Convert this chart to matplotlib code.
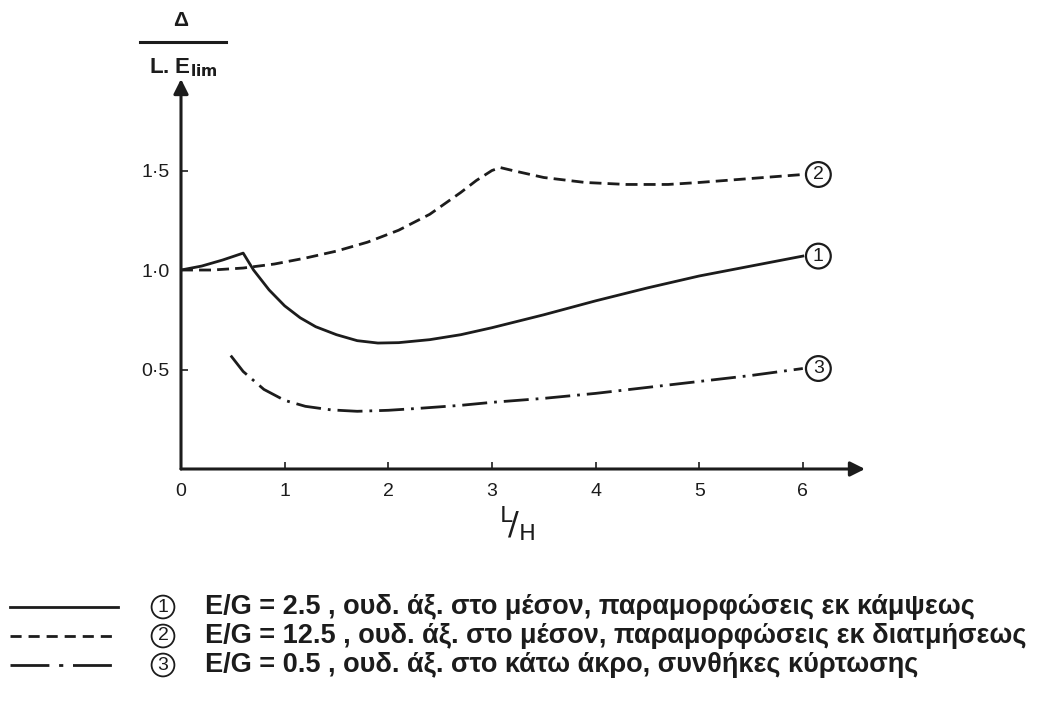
import matplotlib.pyplot as plt
from matplotlib.lines import Line2D

# curve 1: E/G = 2.5 (solid)
c1_x = [0.0, 0.2, 0.4, 0.6, 0.7, 0.85, 1.0, 1.15, 1.3, 1.5, 1.7, 1.9, 2.1, 2.4, 2.7, 3.0, 3.5, 4.0, 4.5, 5.0, 5.5, 6.0]
c1_y = [1.00, 1.02, 1.05, 1.085, 1.00, 0.90, 0.82, 0.76, 0.715, 0.675, 0.645, 0.633, 0.635, 0.65, 0.675, 0.71, 0.775, 0.845, 0.91, 0.97, 1.02, 1.07]

# curve 2: E/G = 12.5 (dashed)
c2_x = [0.0, 0.3, 0.6, 0.9, 1.2, 1.5, 1.8, 2.1, 2.4, 2.7, 2.85, 3.0, 3.08, 3.2, 3.5, 3.9, 4.3, 4.7, 5.0, 5.5, 6.0]
c2_y = [1.00, 1.00, 1.01, 1.03, 1.06, 1.095, 1.14, 1.20, 1.28, 1.39, 1.45, 1.50, 1.515, 1.50, 1.465, 1.44, 1.43, 1.43, 1.44, 1.46, 1.48]

# curve 3: E/G = 0.5 (dash-dot)
c3_x = [0.48, 0.6, 0.8, 1.0, 1.2, 1.45, 1.7, 2.0, 2.3, 2.7, 3.0, 3.5, 4.0, 4.5, 5.0, 5.5, 6.0]
c3_y = [0.57, 0.49, 0.40, 0.345, 0.315, 0.297, 0.29, 0.295, 0.305, 0.32, 0.335, 0.355, 0.38, 0.41, 0.44, 0.47, 0.505]

x_ticks = [0, 1, 2, 3, 4, 5, 6]
y_ticks = [0.5, 1.0, 1.5]
y_tick_labels = ['0·5', '1·0', '1·5']

curve_ids = ['1', '2', '3']
legend_texts = [
    'E/G = 2.5 , ουδ. άξ. στο μέσον, παραμορφώσεις εκ κάμψεως',
    'E/G = 12.5 , ουδ. άξ. στο μέσον, παραμορφώσεις εκ διατμήσεως',
    'E/G = 0.5 , ουδ. άξ. στο κάτω άκρο, συνθήκες κύρτωσης',
]

ink = '#1c1c1c'
plt.rcParams['font.family'] = ['Liberation Sans', 'DejaVu Sans']

fig = plt.figure(figsize=(10.57, 7.1), dpi=100)
fig.patch.set_facecolor('white')

ax = fig.add_axes([181 / 1057, 1 - 469 / 710, 684 / 1057, 390 / 710])
ax.set_xlim(0, 6.6)
ax.set_ylim(0, 1.96)
for s in ax.spines.values():
    s.set_visible(False)

# axes drawn as arrows
arrow = dict(arrowstyle='-|>', lw=2.2, color=ink, mutation_scale=22, shrinkA=0, shrinkB=0)
ax.annotate('', xy=(6.6, 0), xytext=(0, 0), arrowprops=arrow, annotation_clip=False)
ax.annotate('', xy=(0, 1.96), xytext=(0, 0), arrowprops=arrow, annotation_clip=False)

ax.set_xticks(x_ticks)
ax.set_yticks(y_ticks)
ax.set_yticklabels(y_tick_labels)
ax.tick_params(direction='in', length=5, width=1.2, color=ink, labelsize=14,
               labelcolor=ink)
ax.tick_params(axis='x', pad=10)
ax.tick_params(axis='y', pad=8)

styles = [
    dict(linestyle='-'),
    dict(linestyle=(0, (4.3, 2.2))),
    dict(linestyle=(0, (9, 2.5, 1, 2.5))),
]
series = [(c1_x, c1_y), (c2_x, c2_y), (c3_x, c3_y)]
for (xs, ys), st, cid in zip(series, styles, curve_ids):
    ax.plot(xs, ys, color=ink, lw=2.0, **st)
    ax.text(6.15, ys[-1], cid, ha='center', va='center', fontsize=14, color=ink,
            bbox=dict(boxstyle='circle,pad=0.2', fc='white', ec=ink, lw=1.6))

# axis titles
fig.text(181 / 1057, 1 - 20 / 710, 'Δ', ha='center', va='center',
         fontsize=15, fontweight='bold', color=ink)
fig.add_artist(Line2D([140 / 1057, 226 / 1057], [1 - 42 / 710, 1 - 42 / 710],
                      color=ink, lw=2.2))
fig.text(183 / 1057, 1 - 68 / 710, r'L. E$_{\mathbf{lim}}$', ha='center', va='center',
         fontsize=16, fontweight='bold', color=ink)
fig.text(517 / 1057, 1 - 524 / 710, r'$^{\mathsf{L}}\!/_{\mathsf{H}}$', ha='center',
         va='center', fontsize=23, color=ink)

# legend at the bottom
leg = fig.add_axes([0, 0, 1, 1], zorder=-1)
leg.set_xlim(0, 1057)
leg.set_ylim(710, 0)
leg.axis('off')
leg_styles = [
    dict(linestyle='-'),
    dict(linestyle=(0, (4, 2.5))),
    dict(linestyle=(0, (14, 3.5, 1.5, 3.5))),
]
row_y = [607, 636, 665]
for y, st, cid, txt in zip(row_y, leg_styles, curve_ids, legend_texts):
    leg.plot([10, 118], [y, y], color=ink, lw=2.0, **st)
    leg.text(163, y, cid, ha='center', va='center', fontsize=14, color=ink,
             bbox=dict(boxstyle='circle,pad=0.15', fc='white', ec=ink, lw=1.3))
    leg.text(205, y, txt, ha='left', va='center', fontsize=19.5, fontweight='bold',
             color=ink)

fig.savefig('out.png', dpi=100, facecolor='white')
